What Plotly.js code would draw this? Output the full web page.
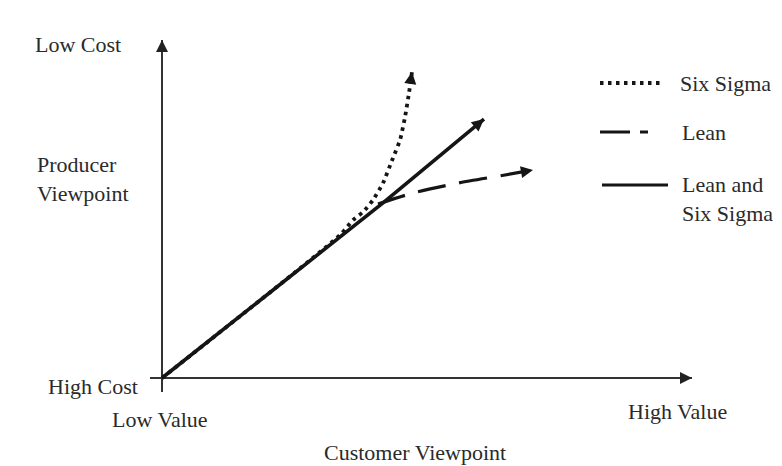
<!DOCTYPE html>
<html>
<head>
<meta charset="utf-8">
<script src="https://cdn.plot.ly/plotly-3.0.1.min.js"></script>
<style>html,body{margin:0;padding:0;background:#fff;}#chart{width:782px;height:466px;}</style>
</head>
<body>
<div id="chart"></div>
<script>
// Conceptual scale: 0 = low value / high cost, 100 = high value / low cost
const leanSixSigmaX = [0, 24.2, 41.7, 60.75];
const leanSixSigmaY = [0, 29.9, 51.8, 76.6];

const sixSigmaX = [0, 33.58, 36.04, 37.92, 39.81, 41.70, 43.58, 44.91, 45.85, 46.60, 47.17];
const sixSigmaY = [0, 42.31, 46.75, 49.11, 52.66, 57.69, 65.09, 70.41, 77.22, 84.32, 90.53];

const leanX = [40.75, 47.36, 55.85, 64.72, 70.0];
const leanY = [51.48, 54.73, 57.69, 60.06, 61.54];

const seriesNames = ['Six Sigma', 'Lean', 'Lean and<br>Six Sigma'];
const yLabels = ['Low Cost', 'Producer<br>Viewpoint', 'High Cost'];
const xLabels = ['Low Value', 'High Value', 'Customer Viewpoint'];

const INK = '#151515';
const FONT = {family: '"Liberation Serif", "Times New Roman", serif', size: 22, color: '#2a2a2a'};

const traces = [
  {
    x: leanX, y: leanY, name: 'Lean', type: 'scatter', mode: 'lines',
    line: {color: INK, width: 3.2, dash: '28px,14px', shape: 'spline', smoothing: 0.6},
    hoverinfo: 'skip'
  },
  {
    x: sixSigmaX, y: sixSigmaY, name: 'Six Sigma', type: 'scatter', mode: 'lines',
    line: {color: INK, width: 3.8, dash: '3.5px,4.5px', shape: 'spline', smoothing: 0.6},
    hoverinfo: 'skip'
  },
  {
    x: leanSixSigmaX, y: leanSixSigmaY, name: 'Lean and Six Sigma', type: 'scatter', mode: 'lines',
    line: {color: INK, width: 3.6},
    hoverinfo: 'skip'
  }
];

// plot area: 150..692 px horizontally, 40..392 px vertically
const L = 150, T = 40, W = 542, H = 352;
const XR = [-12 / 5.3, 100], YR = [-14 / 3.38, 100];
const px = v => (v - L) / W;
const py = v => (T + H - v) / H;

function label(text, x, y, xanchor, align) {
  return {text: text, xref: 'paper', yref: 'paper', x: px(x), y: py(y), xanchor: xanchor || 'left',
          yanchor: 'middle', align: align || 'left', showarrow: false, font: FONT};
}

// arrowhead at the end of a series, pointing along its last segment
function tipArrow(xs, ys) {
  const n = xs.length;
  const dx = (xs[n - 1] - xs[n - 2]) * W / (XR[1] - XR[0]);
  const dy = -(ys[n - 1] - ys[n - 2]) * H / (YR[1] - YR[0]);
  const len = Math.hypot(dx, dy), s = 8;
  return {x: xs[n - 1], y: ys[n - 1], xref: 'x', yref: 'y', ax: -dx / len * s, ay: -dy / len * s,
          showarrow: true, text: '', arrowhead: 2, arrowsize: 1.1, arrowwidth: 2.2, arrowcolor: INK, standoff: 0};
}

const annotations = [
  label(yLabels[0], 33, 45),
  label(yLabels[1], 35, 179),
  label(yLabels[2], 140, 386, 'right'),
  label(xLabels[0], 110, 419),
  label(xLabels[1], 626, 411),
  label(xLabels[2], 415, 452, 'center', 'center'),
  label(seriesNames[0], 678, 83),
  label(seriesNames[1], 680, 132),
  label(seriesNames[2], 680, 199),
  tipArrow(leanX, leanY),
  tipArrow(sixSigmaX, sixSigmaY),
  tipArrow(leanSixSigmaX, leanSixSigmaY),
  // axis arrowheads
  {x: 100, y: 0, xref: 'x', yref: 'y', ax: -12, ay: 0, showarrow: true, text: '', arrowhead: 2,
   arrowsize: 1.5, arrowwidth: 1.6, arrowcolor: '#222', standoff: 0},
  {x: 0, y: 100, xref: 'x', yref: 'y', ax: 0, ay: 12, showarrow: true, text: '', arrowhead: 2,
   arrowsize: 1.5, arrowwidth: 1.6, arrowcolor: '#222', standoff: 0}
];

const shapes = [
  {type: 'line', xref: 'paper', yref: 'paper', x0: px(600), x1: px(662), y0: py(83), y1: py(83),
   line: {color: INK, width: 3.8, dash: '3.5px,4.5px'}},
  {type: 'line', xref: 'paper', yref: 'paper', x0: px(600), x1: px(648), y0: py(132), y1: py(132),
   line: {color: INK, width: 3.2, dash: '30px,10px,8px,40px'}},
  {type: 'line', xref: 'paper', yref: 'paper', x0: px(602), x1: px(668), y0: py(185), y1: py(185),
   line: {color: INK, width: 3.2}}
];

const layout = {
  width: 782, height: 466,
  margin: {l: L, r: 782 - L - W, t: T, b: 466 - T - H, pad: 0},
  paper_bgcolor: '#fff', plot_bgcolor: '#fff',
  showlegend: false,
  xaxis: {range: XR, showgrid: false, showticklabels: false, ticks: '', showline: false,
          zeroline: true, zerolinecolor: '#333', zerolinewidth: 1.6, fixedrange: true},
  yaxis: {range: YR, showgrid: false, showticklabels: false, ticks: '', showline: false,
          zeroline: true, zerolinecolor: '#333', zerolinewidth: 1.6, fixedrange: true},
  annotations: annotations,
  shapes: shapes,
  font: FONT
};

Plotly.newPlot('chart', traces, layout, {displayModeBar: false, staticPlot: true});
</script>
</body>
</html>
